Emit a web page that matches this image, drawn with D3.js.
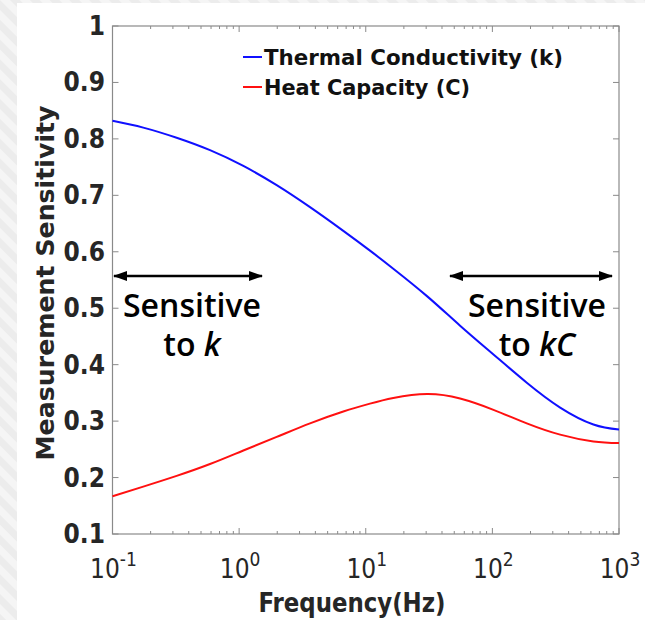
<!DOCTYPE html>
<html><head><meta charset="utf-8">
<script src="https://cdn.jsdelivr.net/npm/d3@7"></script>
<style>
html,body{margin:0;padding:0;background:#fff;}
svg{display:block;}
</style></head>
<body>
<svg id="chart" width="645" height="620"></svg>
<script>
const freq = [0.1, 0.175, 0.321, 0.589, 1.08, 1.98, 3.63, 6.65, 10.8, 16.5, 30.6, 55.6, 102, 187, 343, 628, 1000];
const kSens = [0.832, 0.820, 0.802, 0.780, 0.752, 0.718, 0.679, 0.637, 0.602, 0.570, 0.521, 0.469, 0.418, 0.368, 0.324, 0.294, 0.285];
const cSens = [0.167, 0.184, 0.203, 0.224, 0.248, 0.272, 0.296, 0.317, 0.331, 0.341, 0.348, 0.340, 0.320, 0.296, 0.276, 0.264, 0.261];
const seriesNames = ["Thermal Conductivity (k)", "Heat Capacity (C)"];
const yTicks = [0.1, 0.2, 0.3, 0.4, 0.5, 0.6, 0.7, 0.8, 0.9, 1];
const yTickLabels = ["0.1","0.2","0.3","0.4","0.5","0.6","0.7","0.8","0.9","1"];
const xTicks = [0.1, 1, 10, 100, 1000];
const xTickExp = ["-1","0","1","2","3"];

const svg = d3.select("#chart");
const defs = svg.append("defs");
const pat = defs.append("pattern").attr("id","hatch").attr("width",14).attr("height",14)
  .attr("patternUnits","userSpaceOnUse").attr("patternTransform","rotate(-45)");
pat.append("rect").attr("width",14).attr("height",14).attr("fill","#ececec");
pat.append("rect").attr("width",7).attr("height",14).attr("fill","#f5f5f5");
svg.append("rect").attr("width",645).attr("height",620).attr("fill","url(#hatch)");
svg.append("rect").attr("x",17).attr("y",3).attr("width",628).attr("height",617).attr("fill","#fff");

const L=112.5, R=619, T=26, B=534;
const x = d3.scaleLog().domain([0.1,1000]).range([L,R]);
const y = d3.scaleLinear().domain([0.1,1]).range([B,T]);

const axisCol = "#8a8a8a";
const txtCol = "#262626";
const font = "'DejaVu Sans Condensed', 'DejaVu Sans', sans-serif";

const g = svg.append("g");
const minor = [];
for (let e=-1;e<3;e++) for (let m=2;m<=9;m++) minor.push(m*Math.pow(10,e));
minor.forEach(v=>{
  g.append("line").attr("x1",x(v)).attr("x2",x(v)).attr("y1",B).attr("y2",B-3).attr("stroke",axisCol);
  g.append("line").attr("x1",x(v)).attr("x2",x(v)).attr("y1",T).attr("y2",T+3).attr("stroke",axisCol);
});
xTicks.forEach(v=>{
  g.append("line").attr("x1",x(v)).attr("x2",x(v)).attr("y1",B).attr("y2",B-6).attr("stroke",axisCol);
  g.append("line").attr("x1",x(v)).attr("x2",x(v)).attr("y1",T).attr("y2",T+6).attr("stroke",axisCol);
});
yTicks.forEach(v=>{
  g.append("line").attr("x1",L).attr("x2",L+6).attr("y1",y(v)).attr("y2",y(v)).attr("stroke",axisCol);
  g.append("line").attr("x1",R).attr("x2",R-6).attr("y1",y(v)).attr("y2",y(v)).attr("stroke",axisCol);
});
g.append("rect").attr("x",L).attr("y",T).attr("width",R-L).attr("height",B-T)
  .attr("fill","none").attr("stroke",axisCol).attr("stroke-width",1.2);

yTicks.forEach((v,i)=>{
  svg.append("text").attr("x",105).attr("y",y(v)+9).attr("text-anchor","end")
    .attr("font-family",font).attr("font-size",26).attr("fill",txtCol)
    .attr("font-weight","bold")
    .text(yTickLabels[i]);
});
xTicks.forEach((v,i)=>{
  const t = svg.append("text").attr("x",x(v)+1).attr("y",578).attr("text-anchor","middle")
    .attr("font-family",font).attr("font-size",26).attr("fill",txtCol);
  t.append("tspan").text("10");
  t.append("tspan").attr("dy",-12).attr("font-size",19).text(xTickExp[i]);
});
svg.append("text").attr("x",352).attr("y",612).attr("text-anchor","middle")
  .attr("font-family",font).attr("font-size",26).attr("font-weight","bold").attr("fill",txtCol)
  .attr("textLength",187).attr("lengthAdjust","spacingAndGlyphs")
  .text("Frequency(Hz)");
svg.append("text").attr("transform","translate(54,283) rotate(-90)").attr("text-anchor","middle")
  .attr("font-family",font).attr("font-size",25).attr("font-weight","bold").attr("fill",txtCol)
  .attr("textLength",355).attr("lengthAdjust","spacingAndGlyphs")
  .text("Measurement Sensitivity");

const line = d3.line().x(d=>x(d[0])).y(d=>y(d[1])).curve(d3.curveNatural);
const plot = svg.append("g");
plot.append("path").datum(freq.map((f,i)=>[f,kSens[i]])).attr("d",line)
  .attr("fill","none").attr("stroke","#1010ff").attr("stroke-width",2);
plot.append("path").datum(freq.map((f,i)=>[f,cSens[i]])).attr("d",line)
  .attr("fill","none").attr("stroke","#ff1010").attr("stroke-width",2);

const legCols = ["#1010ff","#ff1010"];
const legLen = [299, 206];
seriesNames.forEach((n,i)=>{
  const ly = 57 + i*30;
  svg.append("line").attr("x1",243).attr("x2",262).attr("y1",ly).attr("y2",ly)
    .attr("stroke",legCols[i]).attr("stroke-width",2);
  svg.append("text").attr("x",264).attr("y",ly+8).attr("font-family",font)
    .attr("font-size",22).attr("font-weight","bold").attr("fill","#111")
    .attr("textLength",legLen[i]).attr("lengthAdjust","spacingAndGlyphs").text(n);
});

defs.append("marker").attr("id","ah").attr("viewBox","0 0 14 10").attr("refX",13).attr("refY",5)
  .attr("markerWidth",5.6).attr("markerHeight",4).attr("orient","auto-start-reverse")
  .append("path").attr("d","M0,0 L14,5 L0,10 Z").attr("fill","#000");
function arrow(x1,x2,yy){
  svg.append("line").attr("x1",x1).attr("x2",x2).attr("y1",yy).attr("y2",yy)
    .attr("stroke","#000").attr("stroke-width",2.5)
    .attr("marker-start","url(#ah)").attr("marker-end","url(#ah)");
}
arrow(114,262,276);
arrow(450,612,276);
const afont = "'Open Sans', sans-serif";
function label(cx, l1, l2a, l2b){
  svg.append("text").attr("x",cx).attr("y",317).attr("text-anchor","middle")
    .attr("font-family",afont).attr("font-size",32).attr("font-weight","600").attr("fill","#000").text(l1);
  const t = svg.append("text").attr("x",cx).attr("y",356).attr("text-anchor","middle")
    .attr("font-family",afont).attr("font-size",32).attr("font-weight","600").attr("fill","#000");
  t.append("tspan").text(l2a);
  t.append("tspan").attr("font-style","italic").text(l2b);
}
label(192,"Sensitive","to ","k");
label(537,"Sensitive","to ","kC");
</script>
</body></html>
